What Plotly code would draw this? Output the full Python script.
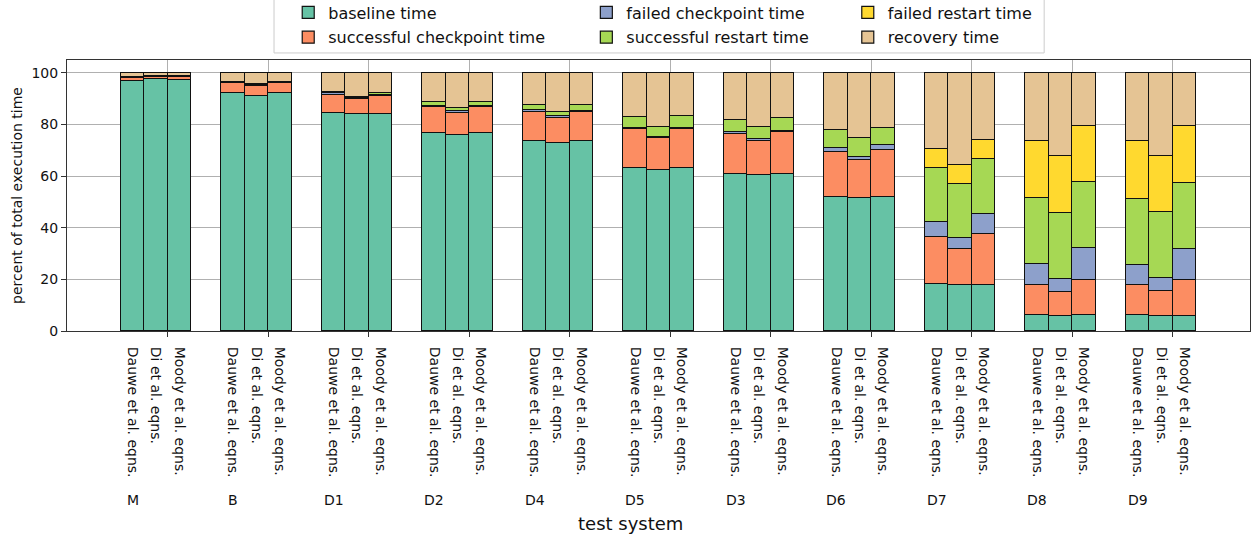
import plotly.graph_objects as go

systems = ["M", "B", "D1", "D2", "D4", "D5", "D3", "D6", "D7", "D8", "D9"]
methods = ["Dauwe et al. eqns.", "Di et al. eqns.", "Moody et al. eqns."]
series_names = ["baseline time", "successful checkpoint time", "failed checkpoint time",
                "successful restart time", "failed restart time", "recovery time"]
colors = ["#66c2a5", "#fc8d62", "#8da0cb", "#a6d854", "#ffd92f", "#e5c494"]

# values per system, per method (Dauwe, Di, Moody), percent of total time
baseline = [
    [97.0, 97.7, 97.2], [92.3, 91.2, 92.3], [84.3, 83.9, 83.9], [76.8, 76.1, 76.8],
    [73.5, 72.9, 73.5], [63.2, 62.3, 63.2], [60.9, 60.5, 60.9], [52.0, 51.6, 52.0],
    [18.3, 17.7, 17.7], [6.2, 5.7, 6.1], [6.2, 5.8, 5.9]]
successful_checkpoint = [
    [1.2, 0.8, 1.3], [3.6, 3.9, 3.6], [7.3, 5.8, 7.1], [10.0, 8.4, 10.0],
    [11.4, 9.7, 11.4], [15.1, 12.3, 15.1], [15.5, 13.3, 16.1], [17.2, 14.7, 18.3],
    [18.1, 14.2, 20.0], [11.6, 9.5, 13.6], [11.5, 9.7, 13.7]]
failed_checkpoint = [
    [0.3, 0.3, 0.2], [0.3, 0.4, 0.2], [0.5, 0.6, 0.4], [0.4, 0.6, 0.4],
    [0.6, 0.7, 0.5], [0.4, 0.5, 0.5], [0.6, 0.7, 0.6], [1.6, 1.1, 1.7],
    [5.8, 4.1, 7.7], [8.3, 4.8, 12.3], [7.8, 5.0, 12.1]]
successful_restart = [
    [0.1, 0.1, 0.1], [0.2, 0.1, 0.2], [0.4, 0.3, 0.8], [1.6, 1.4, 1.7],
    [2.0, 1.5, 2.2], [4.1, 4.0, 4.4], [4.7, 4.5, 4.9], [6.9, 7.3, 6.7],
    [21.0, 21.0, 21.1], [25.5, 25.7, 25.7], [25.7, 25.7, 25.6]]
failed_restart = [
    [0.0, 0.0, 0.0], [0.0, 0.0, 0.0], [0.0, 0.0, 0.0], [0.0, 0.0, 0.0],
    [0.0, 0.0, 0.0], [0.0, 0.0, 0.0], [0.0, 0.0, 0.0], [0.1, 0.1, 0.1],
    [7.4, 7.4, 7.4], [21.9, 22.0, 21.7], [22.3, 21.5, 22.1]]
recovery = [
    [1.4, 1.1, 1.2], [3.6, 4.4, 3.7], [7.5, 9.4, 7.8], [11.2, 13.5, 11.1],
    [12.5, 15.2, 12.4], [17.2, 20.9, 16.8], [18.3, 21.0, 17.5], [22.2, 25.2, 21.2],
    [29.4, 35.6, 26.1], [26.5, 32.3, 20.6], [26.5, 32.3, 20.6]]

all_series = [baseline, successful_checkpoint, failed_checkpoint,
              successful_restart, failed_restart, recovery]
legend_ids = ["legend", "legend", "legend2", "legend2", "legend3", "legend3"]
legend_ranks = [1, 2, 1, 2, 1, 2]

bar_w = 0.7 / 3
xs, xlabels = [], []
for i, s in enumerate(systems):
    for k, m in enumerate(methods):
        xs.append(i - 0.35 + k * bar_w)
        xlabels.append(m)

fig = go.Figure()
for name, vals, col, lid, rank in zip(series_names, all_series, colors, legend_ids, legend_ranks):
    y = [v for grp in vals for v in grp]
    fig.add_trace(go.Bar(
        x=xs, y=y, name=name, width=bar_w,
        marker=dict(color=col, line=dict(color="#111111", width=1.2)),
        legend=lid, legendrank=rank, legendgroup=name,
    ))

FONT = "DejaVu Sans"
leg_common = dict(orientation="v", yanchor="top", y=1.238, xanchor="left",
                  bgcolor="rgba(0,0,0,0)", borderwidth=0, traceorder="grouped",
                  font=dict(family=FONT, size=16, color="#111"), tracegroupgap=1)
fig.update_layout(
    width=1253, height=537,
    margin=dict(l=67, r=3, t=60, b=206, autoexpand=False),
    paper_bgcolor="white", plot_bgcolor="white",
    barmode="stack", bargap=0,
    font=dict(family=FONT, size=14, color="#111"),
    legend=dict(x=0.187, **leg_common),
    legend2=dict(x=0.439, **leg_common),
    legend3=dict(x=0.660, **leg_common),
    showlegend=True,
)
fig.update_xaxes(
    range=[-1.002, 10.768],
    tickmode="array", tickvals=xs, ticktext=xlabels, tickangle=90,
    ticks="", ticklabelstandoff=12, showgrid=False,
    tickfont=dict(family=FONT, size=14, color="#111"),
    showline=True, mirror=True, linecolor="#333", linewidth=1,
    zeroline=False,
    minor=dict(tickmode="array", tickvals=list(range(len(systems))), ticks="outside",
               ticklen=5, tickcolor="#333", showgrid=True, gridcolor="#b0b0b0", gridwidth=1),
)
fig.update_yaxes(
    range=[0, 105], tickvals=[0, 20, 40, 60, 80, 100], ticks="outside", ticklen=5,
    tickcolor="#333", showgrid=True, gridcolor="#b0b0b0", gridwidth=1,
    showline=True, mirror=True, linecolor="#333", linewidth=1, zeroline=False,
    tickfont=dict(family=FONT, size=14, color="#111"),
    title=dict(text="percent of total execution time", font=dict(family=FONT, size=14, color="#111"),
               standoff=5),
)
for i, s in enumerate(systems):
    fig.add_annotation(x=i - 0.35, y=-0.624, xref="x", yref="paper", text=s, showarrow=False,
                       xanchor="center", yanchor="middle",
                       font=dict(family=FONT, size=14, color="#111"))
fig.add_annotation(x=0.476, y=-0.71, xref="paper", yref="paper", text="test system",
                   showarrow=False, xanchor="center", yanchor="middle",
                   font=dict(family=FONT, size=18, color="#111"))
fig.add_shape(type="rect", xref="paper", yref="paper", x0=0.175, x1=0.826, y0=1.026, y1=1.225,
              line=dict(color="#cccccc", width=1), fillcolor="white", layer="below")
# remove the browser's default 8px body margin so the figure sits at the page origin
fig.write_html("out.html", config={"displayModeBar": False},
               post_script="document.body.style.margin='0';")
